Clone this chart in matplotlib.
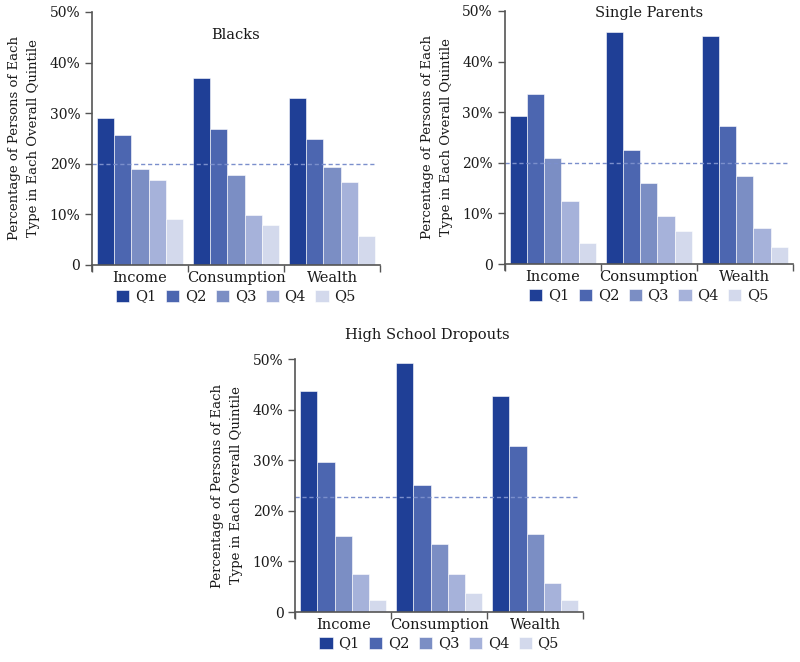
import numpy as np
import matplotlib
matplotlib.use("Agg")
import matplotlib.pyplot as plt

plt.rcParams['font.family'] = ['DejaVu Serif']

categories = ['Income', 'Consumption', 'Wealth']
quintiles = ['Q1', 'Q2', 'Q3', 'Q4', 'Q5']
colors = ['#1f3f96', '#4c66b0', '#7b8ec4', '#a6b2da', '#d3d9ec']

# rows = quintile, columns = Income / Consumption / Wealth (percent)
blacks = [
    [29.0, 37.0, 33.1],
    [25.7, 26.8, 24.9],
    [18.9, 17.7, 19.4],
    [16.8, 9.9, 16.4],
    [9.0, 8.0, 5.7],
]
single_parents = [
    [29.3, 45.9, 45.1],
    [33.6, 22.6, 27.3],
    [20.9, 16.1, 17.4],
    [12.5, 9.4, 7.2],
    [4.1, 6.5, 3.4],
]
dropouts = [
    [43.7, 49.3, 42.7],
    [29.7, 25.1, 32.8],
    [15.1, 13.5, 15.4],
    [7.5, 7.5, 5.7],
    [2.4, 3.8, 2.4],
]
ref_lines = [20, 20, 22.7]
titles = ['Blacks', 'Single Parents', 'High School Dropouts']
ylabel = 'Percentage of Persons of Each\nType in Each Overall Quintile'

fig = plt.figure(figsize=(8, 6.62), dpi=100)
axes = [
    fig.add_axes([0.115, 0.5997, 0.36, 0.3822]),
    fig.add_axes([0.631, 0.6012, 0.36, 0.3822]),
    fig.add_axes([0.369, 0.0755, 0.36, 0.3822]),
]

x = np.arange(len(categories))
w = 0.18
spine_col = '#555555'
txt_col = '#1a1a1a'

for ax, data, title, ref in zip(axes, [blacks, single_parents, dropouts], titles, ref_lines):
    for i, (q, vals) in enumerate(zip(quintiles, data)):
        ax.bar(x + (i - 2) * w, vals, width=w, color=colors[i],
               edgecolor='white', linewidth=0.4, label=q)
    ax.axhline(ref, xmin=0, xmax=0.985, color='#7b8fcc', linestyle='--',
               linewidth=1, dashes=(3, 2))
    ax.set_xlim(-0.5, 2.5)
    ax.set_ylim(0, 50)
    ax.set_yticks([0, 10, 20, 30, 40, 50])
    ax.set_yticklabels(['0', '10%', '20%', '30%', '40%', '50%'])
    ax.set_xticks(x)
    ax.set_xticklabels(categories, fontsize=10.5, color=txt_col)
    ax.tick_params(axis='x', which='major', length=0, pad=4)
    ax.set_xticks([-0.5, 0.5, 1.5, 2.5], minor=True)
    ax.tick_params(axis='x', which='minor', length=5, color=spine_col, width=1)
    ax.tick_params(axis='y', length=5, color=spine_col, width=1,
                   labelsize=10, labelcolor=txt_col)
    for s in ['top', 'right']:
        ax.spines[s].set_visible(False)
    for s in ['left', 'bottom']:
        ax.spines[s].set_color(spine_col)
        ax.spines[s].set_linewidth(1.2)
    ax.spines['left'].set_bounds(-1.2, 50)
    ax.set_ylabel(ylabel, fontsize=9.5, color=txt_col, labelpad=7,
                  linespacing=1.55)
    ax.legend(loc='upper center', bbox_to_anchor=(0.5, -0.045), ncol=5,
              frameon=False, handlelength=0.9, handleheight=0.9,
              handletextpad=0.4, columnspacing=0.65, fontsize=10.5,
              labelcolor=txt_col)

axes[0].set_title(titles[0], fontsize=10.5, y=0.86, color=txt_col)
axes[1].set_title(titles[1], fontsize=10.5, y=0.945, color=txt_col)
axes[2].set_title(titles[2], fontsize=10.5, x=0.46, y=1.045, color=txt_col)

fig.savefig('out.png', dpi=100)
